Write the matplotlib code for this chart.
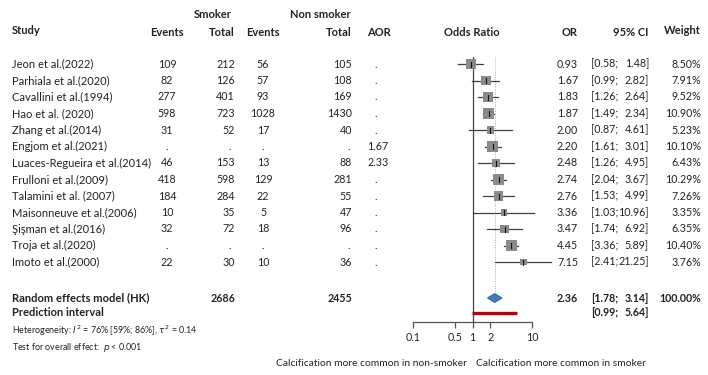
import matplotlib
matplotlib.use("Agg")
import matplotlib.pyplot as plt
from matplotlib.patches import Polygon
import numpy as np

plt.rcParams['font.family'] = ['Lato', 'DejaVu Sans']

studies = ["Jeon et al.(2022)", "Parhiala et al.(2020)", "Cavallini et al.(1994)",
           "Hao et al. (2020)", "Zhang et al.(2014)", "Engjom et al.(2021)",
           "Luaces-Regueira et al.(2014)", "Frulloni et al.(2009)", "Talamini et al. (2007)",
           "Maisonneuve et al.(2006)", "Şişman et al.(2016)", "Troja et al.(2020)",
           "Imoto et al.(2000)"]
events_smoker = ["109", "82", "277", "598", "31", ".", "46", "418", "184", "10", "32", ".", "22"]
total_smoker = ["212", "126", "401", "723", "52", ".", "153", "598", "284", "35", "72", ".", "30"]
events_non = ["56", "57", "93", "1028", "17", ".", "13", "129", "22", "5", "18", ".", "10"]
total_non = ["105", "108", "169", "1430", "40", ".", "88", "281", "55", "47", "96", ".", "36"]
aor = [".", ".", ".", ".", ".", "1.67", "2.33", ".", ".", ".", ".", ".", "."]
odds_ratio = [0.93, 1.67, 1.83, 1.87, 2.00, 2.20, 2.48, 2.74, 2.76, 3.36, 3.47, 4.45, 7.15]
ci_low = [0.58, 0.99, 1.26, 1.49, 0.87, 1.61, 1.26, 2.04, 1.53, 1.03, 1.74, 3.36, 2.41]
ci_high = [1.48, 2.82, 2.64, 2.34, 4.61, 3.01, 4.95, 3.67, 4.99, 10.96, 6.92, 5.89, 21.25]
weights = [8.50, 7.91, 9.52, 10.90, 5.23, 10.10, 6.43, 10.29, 7.26, 3.35, 6.35, 10.40, 3.76]

total_smoker_sum = "2686"
total_non_sum = "2455"
pooled_or, pooled_lo, pooled_hi = 2.36, 1.78, 3.14
pred_lo, pred_hi = 0.99, 5.64
axis_ticks = [0.1, 0.5, 1, 2, 10]
axis_ticklabels = ["0.1", "0.5", "1", "2", "10"]

W, H = 708, 375
fig = plt.figure(figsize=(W / 100, H / 100), dpi=100)
fig.patch.set_facecolor("white")

ax_t = fig.add_axes([0, 0, 1, 1])
ax_t.set_xlim(0, W)
ax_t.set_ylim(H, 0)
ax_t.axis("off")

fs = 8.0     # labels
fn = 7.7     # numbers
fc = 7.7     # confidence intervals
col = "#222222"
row_y = [64 + 16.5 * i for i in range(len(studies))]
y_re, y_pi = 298, 313


def t(x, y, s, ha="left", bold=False, size=fs, **kw):
    ax_t.text(x, y, s, ha=ha, va="center", fontsize=size, color=col,
              fontweight="bold" if bold else "normal", **kw)

# headers
t(213, 15, "Smoker", "center", True)
t(320, 15, "Non smoker", "center", True)
t(12, 30, "Study", bold=True)
t(167, 32, "Events", "center", True)
t(235, 32, "Total", "right", True)
t(263, 32, "Events", "center", True)
t(352, 32, "Total", "right", True)
t(367, 32, "AOR", bold=True)
t(472, 32, "Odds Ratio", "center", True)
t(578, 32, "OR", "right", True)
t(648, 32, "95% CI", "right", True)
t(701, 30, "Weight", "right", True)

for i, y in enumerate(row_y):
    t(12, y, studies[i])
    t(167, y, events_smoker[i], "center", size=fn)
    if total_smoker[i] == ".":
        t(230, y, ".", "center", size=fn)
    else:
        t(235, y, total_smoker[i], "right", size=fn)
    t(263, y, events_non[i], "center", size=fn)
    if total_non[i] == ".":
        t(349, y, ".", "center", size=fn)
    else:
        t(352, y, total_non[i], "right", size=fn)
    if aor[i] == ".":
        t(376, y, ".", "center", size=fn)
    else:
        t(367, y, aor[i], size=fn)
    t(578, y, f"{odds_ratio[i]:.2f}", "right", size=fn)
    t(591, y, f"[{ci_low[i]:.2f};", size=fc)
    t(649, y, f"{ci_high[i]:.2f}]", "right", size=fc)
    t(701, y, f"{weights[i]:.2f}%", "right", size=fn)

t(12, y_re, "Random effects model (HK)", bold=True)
t(235, y_re, total_smoker_sum, "right", True, size=fn)
t(352, y_re, total_non_sum, "right", True, size=fn)
t(578, y_re, f"{pooled_or:.2f}", "right", True, size=fn)
t(591, y_re, f"[{pooled_lo:.2f};", bold=True, size=fc)
t(649, y_re, f"{pooled_hi:.2f}]", "right", True, size=fc)
t(701, y_re, "100.00%", "right", True, size=fn)

t(12, y_pi, "Prediction interval", bold=True)
t(591, y_pi, f"[{pred_lo:.2f};", bold=True, size=fc)
t(649, y_pi, f"{pred_hi:.2f}]", "right", True, size=fc)

t(12, 331, r"Heterogeneity: $I^2$ = 76% [59%; 86%], $\tau^2$ = 0.14", size=6.4)
t(12, 348, r"Test for overall effect:  $p$ < 0.001", size=6.4)

t(467, 363, "Calcification more common in non-smoker", "right", size=7.4)
t(476, 363, "Calcification more common in smoker", size=7.4)

# forest axes
x0, x1 = 413, 532
y_axis = 322
ax = fig.add_axes([x0 / W, (H - y_axis) / H, (x1 - x0) / W, y_axis / H])
ax.set_xscale("log")
ax.set_xlim(0.1, 10)
ax.set_ylim(y_axis, 0)
ax.patch.set_alpha(0)
for s in ["top", "left", "right"]:
    ax.spines[s].set_visible(False)
ax.spines["bottom"].set_color("#555555")
ax.spines["bottom"].set_linewidth(0.9)
ax.set_yticks([])
ax.set_xticks(axis_ticks)
ax.set_xticklabels(axis_ticklabels)
ax.minorticks_off()
ax.tick_params(axis="x", direction="out", length=4.5, width=0.9, color="#555555",
               pad=3, labelsize=fn, labelcolor=col)

# reference lines
ax.plot([1, 1], [57, y_axis], color="#444444", lw=0.9, clip_on=False)
ax.plot([pooled_or, pooled_or], [57, 293], color="#aaaaaa", lw=0.7, ls=(0, (1, 1.5)), clip_on=False)

for i, y in enumerate(row_y):
    ax.plot([ci_low[i], ci_high[i]], [y, y], color="#404040", lw=0.9, clip_on=False, zorder=2)
    side_px = 3.4 * np.sqrt(weights[i])
    ax.scatter([odds_ratio[i]], [y], marker="s", s=(side_px * 0.72) ** 2,
               color="#8a8a8a", edgecolors="none", zorder=3, clip_on=False)
    ax.plot([odds_ratio[i], odds_ratio[i]], [y - 2.5, y + 2.5], color="#111111", lw=0.8, zorder=4)

dia = Polygon([(pooled_lo, y_re), (pooled_or, y_re - 4.5), (pooled_hi, y_re), (pooled_or, y_re + 4.5)],
              closed=True, facecolor="#3f7cbf", edgecolor="#2b5d90", lw=0.6, zorder=3)
ax.add_patch(dia)
ax.plot([pred_lo, pred_hi], [y_pi, y_pi], color="#c00000", lw=2.4, solid_capstyle="butt", zorder=3)

fig.savefig("out.png", dpi=100, facecolor="white")
